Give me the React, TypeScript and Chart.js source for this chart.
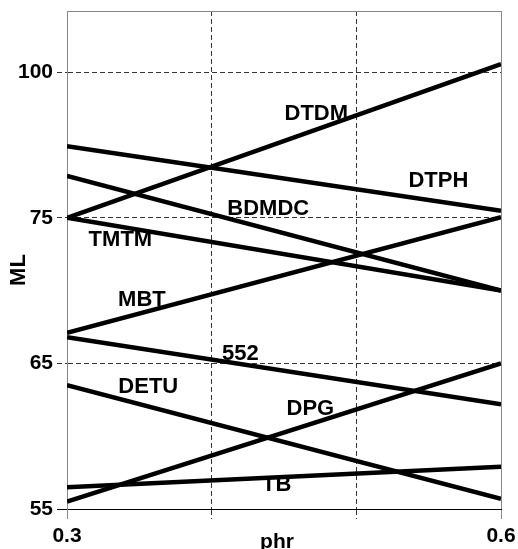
import React, { useEffect, useRef } from "react";
import { Chart, registerables } from "chart.js";

Chart.register(...registerables);

// ---- data ----
const X_ENDS = [0.3, 0.6];
const X_TICKS = [0.3, 0.4, 0.5, 0.6];
const X_TICK_LABELS = ["0.3", "", "", "0.6"];
const Y_TICK_VALUES = [55, 65, 75, 100];
const Y_TICK_LABELS = ["55", "65", "75", "100"];
const Y_TOP = 110.5;

const SERIES_NAMES = ["DTDM", "DTPH", "BDMDC", "TMTM", "MBT", "552", "DETU", "DPG", "TB"];
const DTDM = [75.0, 101.4];
const DTPH = [87.3, 76.2];
const BDMDC = [82.2, 70.0];
const TMTM = [75.0, 70.0];
const MBT = [67.1, 75.1];
const S552 = [66.8, 62.2];
const DETU = [63.5, 55.7];
const DPG = [55.5, 65.0];
const TB = [56.5, 57.9];
const SERIES_VALUES = [DTDM, DTPH, BDMDC, TMTM, MBT, S552, DETU, DPG, TB];

// label anchor points (phr, ML)
const LABEL_X = [0.4723, 0.5567, 0.4391, 0.3369, 0.3518, 0.4198, 0.3562, 0.4682, 0.445];
const LABEL_Y = [93.2, 81.7, 76.9, 73.6, 69.5, 65.8, 63.5, 62.0, 56.8];

const X_TITLE = "phr";
const Y_TITLE = "ML";

// the ML axis has equally spaced, unevenly valued ticks: map piecewise
function toU(v: number): number {
  const t = Y_TICK_VALUES;
  let i = 0;
  while (i < t.length - 2 && v > t[i + 1]) i++;
  return i + (v - t[i]) / (t[i + 1] - t[i]);
}

const FONT_FAMILY = "'Liberation Sans', Arial, Helvetica, sans-serif";
const GRID_DASH = "#333333";
const BORDER_GRAY = "#888888";

const overlay = {
  id: "overlay",
  afterDatasetsDraw(chart: any) {
    const { ctx, chartArea, scales } = chart;
    ctx.save();
    // top frame line
    ctx.strokeStyle = BORDER_GRAY;
    ctx.lineWidth = 1;
    const ty = Math.round(chartArea.top) + 0.5;
    ctx.beginPath();
    ctx.moveTo(chartArea.left, ty);
    ctx.lineTo(chartArea.right + 0.5, ty);
    ctx.stroke();

    // series labels
    ctx.fillStyle = "#000";
    ctx.font = `bold 22px ${FONT_FAMILY}`;
    ctx.textAlign = "center";
    ctx.textBaseline = "alphabetic";
    SERIES_NAMES.forEach((name, i) => {
      const px = scales.x.getPixelForValue(LABEL_X[i]);
      const py = scales.y.getPixelForValue(toU(LABEL_Y[i]));
      ctx.fillText(name, px, py + 0.358 * 22);
    });

    // axis titles
    ctx.font = `bold 21px ${FONT_FAMILY}`;
    ctx.fillText(X_TITLE, 277, 548);
    ctx.save();
    ctx.translate(16.7 + 0.358 * 22, 270);
    ctx.rotate(-Math.PI / 2);
    ctx.font = `bold 22px ${FONT_FAMILY}`;
    ctx.fillText(Y_TITLE, 0, 0);
    ctx.restore();
    ctx.restore();
  },
};

export default function App() {
  const ref = useRef<HTMLCanvasElement | null>(null);

  useEffect(() => {
    if (!ref.current) return;
    const datasets = SERIES_VALUES.map((vals, i) => ({
      label: SERIES_NAMES[i],
      data: X_ENDS.map((x, j) => ({ x, y: toU(vals[j]) })),
      borderColor: "#000",
      backgroundColor: "#000",
      borderWidth: 4.5,
      pointRadius: 0,
      fill: false,
      tension: 0,
    }));

    const edgeX = (c: any) => c.index === 0 || c.index === X_TICKS.length - 1;

    const chart = new Chart(ref.current, {
      type: "line",
      data: { datasets },
      plugins: [overlay],
      options: {
        animation: false,
        responsive: false,
        maintainAspectRatio: false,
        layout: { padding: { top: 11, right: 17, left: 0, bottom: 0 } },
        plugins: {
          legend: { display: false },
          tooltip: { enabled: false },
        },
        scales: {
          x: {
            type: "linear",
            min: X_ENDS[0],
            max: X_ENDS[1],
            afterBuildTicks: (scale: any) => {
              scale.ticks = X_TICKS.map((v) => ({ value: v }));
            },
            afterFit: (scale: any) => {
              scale.height = 40;
              scale.paddingLeft = 0;
              scale.paddingRight = 0;
            },
            ticks: {
              autoSkip: false,
              maxRotation: 0,
              padding: 5,
              color: "#000",
              font: { family: FONT_FAMILY, size: 21, weight: "bold" },
              callback: (_v: any, i: number) => X_TICK_LABELS[i],
            },
            grid: {
              color: (c: any) => (edgeX(c) ? BORDER_GRAY : GRID_DASH),
              tickColor: (c: any) => (edgeX(c) ? BORDER_GRAY : GRID_DASH),
              lineWidth: 1,
              tickLength: 10,
              tickBorderDash: (c: any) => (edgeX(c) ? [] : [5, 3]),
            },
            border: {
              display: true,
              color: "#000",
              width: 1,
              dash: (c: any) => (edgeX(c) ? [] : [5, 3]),
            },
          },
          y: {
            type: "linear",
            min: 0,
            max: toU(Y_TOP),
            afterBuildTicks: (scale: any) => {
              scale.ticks = Y_TICK_VALUES.map((v) => ({ value: toU(v) }));
            },
            afterFit: (scale: any) => {
              scale.width = 67;
              scale.paddingTop = 0;
              scale.paddingBottom = 0;
            },
            ticks: {
              autoSkip: false,
              padding: 4,
              color: "#000",
              font: { family: FONT_FAMILY, size: 21, weight: "bold" },
              callback: (_v: any, i: number) => Y_TICK_LABELS[i],
            },
            grid: {
              color: (c: any) => (c.index === 0 ? "#000" : GRID_DASH),
              tickColor: (c: any) => (c.index === 0 ? "#000" : GRID_DASH),
              lineWidth: 1,
              tickLength: 10,
              tickBorderDash: (c: any) => (c.index === 0 ? [] : [5, 3]),
            },
            border: {
              display: true,
              color: BORDER_GRAY,
              width: 1,
              dash: (c: any) => (c.index === 0 ? [] : [5, 3]),
            },
          },
        },
      },
    } as any);
    return () => chart.destroy();
  }, []);

  return (
    <div style={{ position: "fixed", left: 0, top: 0, width: 518, height: 549, background: "#fff" }}>
      <canvas ref={ref} width={518} height={549} style={{ display: "block", width: 518, height: 549 }} />
    </div>
  );
}
